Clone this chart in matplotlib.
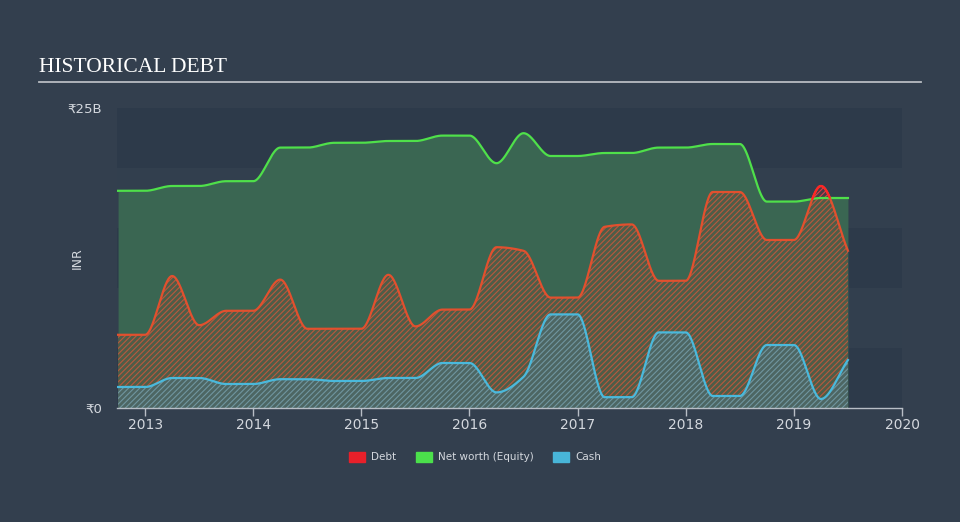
import matplotlib
matplotlib.use("Agg")
import matplotlib.pyplot as plt
import numpy as np
from matplotlib.patches import Patch

BG = "#333f4e"
BAND_DARK = "#2d3a4a"
BAND_LIGHT = "#323f4e"
TXT = "#d4d8de"

# quarterly observations, INR billions
quarters = [2012.75, 2013.0, 2013.25, 2013.5, 2013.75, 2014.0, 2014.25, 2014.5,
            2014.75, 2015.0, 2015.25, 2015.5, 2015.75, 2016.0, 2016.25, 2016.5,
            2016.75, 2017.0, 2017.25, 2017.5, 2017.75, 2018.0, 2018.25, 2018.5,
            2018.75, 2019.0, 2019.25, 2019.5]
debt = [6.1, 6.1, 11.0, 6.9, 8.1, 8.1, 10.7, 6.6,
        6.6, 6.6, 11.1, 6.8, 8.2, 8.2, 13.4, 13.1,
        9.2, 9.2, 15.1, 15.3, 10.6, 10.6, 18.0, 18.0,
        14.0, 14.0, 18.5, 13.1]
equity = [18.1, 18.1, 18.5, 18.5, 18.9, 18.9, 21.7, 21.7,
          22.1, 22.1, 22.25, 22.25, 22.7, 22.7, 20.4, 22.9,
          21.0, 21.0, 21.25, 21.25, 21.7, 21.7, 22.0, 22.0,
          17.2, 17.2, 17.5, 17.5]
cash = [1.75, 1.75, 2.5, 2.5, 2.0, 2.0, 2.4, 2.4,
        2.25, 2.25, 2.5, 2.5, 3.75, 3.75, 1.3, 2.6,
        7.8, 7.8, 0.9, 0.9, 6.3, 6.3, 1.0, 1.0,
        5.25, 5.25, 0.75, 4.0]
years = [2013, 2014, 2015, 2016, 2017, 2018, 2019, 2020]


def monotone(x, y, xs):
    x = np.asarray(x, float)
    y = np.asarray(y, float)
    h = np.diff(x)
    d = np.diff(y) / h
    m = np.zeros_like(y)
    m[0], m[-1] = d[0], d[-1]
    for k in range(1, len(x) - 1):
        if d[k - 1] * d[k] > 0:
            w1 = 2 * h[k] + h[k - 1]
            w2 = h[k] + 2 * h[k - 1]
            m[k] = (w1 + w2) / (w1 / d[k - 1] + w2 / d[k])
    idx = np.clip(np.searchsorted(x, xs) - 1, 0, len(x) - 2)
    t = (xs - x[idx]) / h[idx]
    h00 = 2 * t**3 - 3 * t**2 + 1
    h10 = t**3 - 2 * t**2 + t
    h01 = -2 * t**3 + 3 * t**2
    h11 = t**3 - t**2
    return (h00 * y[idx] + h10 * h[idx] * m[idx]
            + h01 * y[idx + 1] + h11 * h[idx] * m[idx + 1])


xs = np.linspace(quarters[0], quarters[-1], 1500)
d_s = monotone(quarters, debt, xs)
e_s = monotone(quarters, equity, xs)
c_s = monotone(quarters, cash, xs)

plt.rcParams["hatch.linewidth"] = 0.8

fig = plt.figure(figsize=(9.6, 5.22), dpi=100)
fig.set_facecolor(BG)
ax = fig.add_axes([117 / 960, 114 / 522, 785 / 960, 300 / 522])
ax.set_facecolor(BG)

for i, lo in enumerate(range(0, 25, 5)):
    ax.axhspan(lo, lo + 5, color=BAND_DARK if i % 2 == 0 else BAND_LIGHT,
               lw=0, zorder=0)

# equity area
ax.fill_between(xs, 0, e_s, color="#3a6652", lw=0, zorder=1)
# debt hatching
ax.fill_between(xs, 0, d_s, facecolor="#4e5d48", edgecolor="#b9583d",
                hatch="//////", lw=0, zorder=2)
over = d_s > e_s
ax.fill_between(xs, e_s, d_s, where=over, facecolor="#4a3a44",
                edgecolor="#d8404a", hatch="//////", lw=0, zorder=2)
# cash hatching
ax.fill_between(xs, 0, c_s, facecolor="#4d6663", edgecolor="#7096a0",
                hatch="//////", lw=0, zorder=3)

ax.plot(xs, e_s, color="#4fe04a", lw=1.6, zorder=5)
ax.plot(xs, d_s, color="#e2502e", lw=1.6, zorder=5)
ax.plot(xs, np.where(over, d_s, np.nan), color="#ff2525", lw=1.6, zorder=6)
ax.plot(xs, c_s, color="#4ab9dc", lw=1.6, zorder=5)

ax.set_xlim(2012.74, 2020.0)
ax.set_ylim(0, 25)
for s in ["top", "right", "left"]:
    ax.spines[s].set_visible(False)
ax.spines["bottom"].set_color("#b8bec6")
ax.spines["bottom"].set_linewidth(1.0)
ax.spines["bottom"].set_zorder(7)
ax.set_xticks(years)
ax.set_xticklabels([str(y) for y in years])
ax.tick_params(axis="x", colors="#b8bec6", labelcolor=TXT, length=6,
               width=1, labelsize=10, pad=1)
ax.set_yticks([0, 25])
ax.set_yticklabels(["₹0", "₹25B"])
ax.tick_params(axis="y", length=0, labelcolor=TXT, labelsize=9.5, pad=11)
fig.text(77 / 960, 1 - 258 / 522, "INR", color=TXT, fontsize=9,
         rotation=90, ha="center", va="center")

fig.text(39 / 960, 1 - 67 / 522, "HISTORICAL DEBT", color="white",
         fontsize=15.5, family="Liberation Serif", va="center", ha="left")
fig.add_artist(plt.Line2D([39 / 960, 921 / 960], [1 - 81.5 / 522] * 2,
                          color="#b8bcc2", lw=1.3))

handles = [Patch(color="#e8202a", label="Debt"),
           Patch(color="#4be04b", label="Net worth (Equity)"),
           Patch(color="#48b5d8", label="Cash")]
leg = fig.legend(handles=handles, loc="center", bbox_to_anchor=(0.495, 1 - 457 / 522),
                 ncol=3, frameon=False, fontsize=7.5, handlelength=1.5,
                 handleheight=1.2, columnspacing=1.9, handletextpad=0.6)
for t in leg.get_texts():
    t.set_color(TXT)

fig.savefig("out.png", dpi=100, facecolor=BG)
